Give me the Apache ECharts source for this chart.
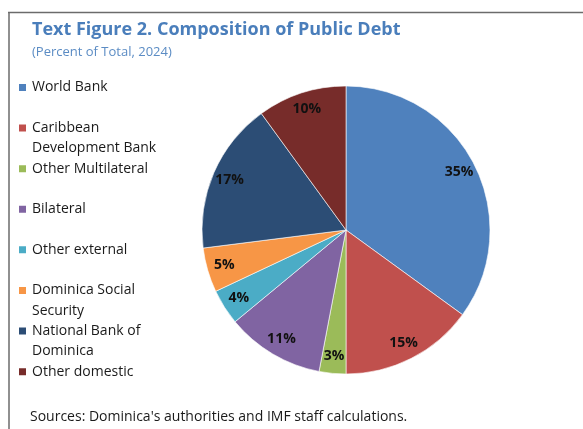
<!DOCTYPE html>
<html>
<head>
<meta charset="utf-8">
<script src="https://cdn.jsdelivr.net/npm/echarts@6/dist/echarts.min.js"></script>
<style>
  html, body { margin: 0; padding: 0; background: #fff; }
  #chart { width: 583px; height: 429px; }
</style>
</head>
<body>
<div id="chart"></div>
<script>
// Composition of public debt, percent of total, 2024
const categories = [
  'World Bank',
  'Caribbean Development Bank',
  'Other Multilateral',
  'Bilateral',
  'Other external',
  'Dominica Social Security',
  'National Bank of Dominica',
  'Other domestic'
];
const shares = [35, 15, 3, 11, 4, 5, 17, 10];
const legendLabels = [
  'World Bank',
  'Caribbean\nDevelopment Bank',
  'Other Multilateral',
  'Bilateral',
  'Other external',
  'Dominica Social\nSecurity',
  'National Bank of\nDominica',
  'Other domestic'
];
const sliceColors = ['#4f81bd', '#c0504d', '#9bbb59', '#8064a2', '#4bacc6', '#f79646', '#2c4d75', '#772c2a'];

const FONT = 'Open Sans';
const LH = 20.3;
const CENTER = [346, 230];
const R = 144;

const pieData = categories.map((name, i) => ({
  name,
  value: shares[i],
  itemStyle: { color: sliceColors[i] }
}));

// Every legend entry is laid out as three text lines (blank, label line 1,
// label line 2 or blank) so the swatch lines up with the first label line.
function legendText(name) {
  const t = legendLabels[categories.indexOf(name)];
  return ' \n' + (t.indexOf('\n') >= 0 ? t : t + '\n ');
}

const chart = echarts.init(document.getElementById('chart'), null, { renderer: 'canvas' });
chart.setOption({
  animation: false,
  backgroundColor: '#fff',
  title: [
    {
      text: 'Text Figure 2. Composition of Public Debt',
      subtext: '(Percent of Total, 2024)',
      left: 32,
      top: 21,
      padding: 0,
      itemGap: 7,
      textStyle: { fontFamily: FONT, fontWeight: 'bold', fontSize: 18, color: '#4a7ebb' },
      subtextStyle: { fontFamily: FONT, fontSize: 13, color: '#5b8cc4' }
    },
    {
      text: "Sources: Dominica's authorities and IMF staff calculations.",
      left: 30,
      top: 410,
      padding: 0,
      textStyle: { fontFamily: FONT, fontWeight: 'normal', fontSize: 14, color: '#1a1a1a' }
    }
  ],
  legend: {
    orient: 'vertical',
    left: 17,
    top: 57,
    padding: 0,
    itemWidth: 9,
    itemHeight: 9,
    itemGap: -LH,
    icon: 'rect',
    selectedMode: false,
    data: categories,
    formatter: legendText,
    textStyle: {
      fontFamily: FONT,
      fontSize: 14,
      color: '#1a1a1a',
      lineHeight: LH
    }
  },
  graphic: [
    { type: 'line', shape: { x1: 8, y1: 12.5, x2: 583, y2: 12.5 }, style: { stroke: '#6b6b6b', lineWidth: 1.5 } },
    { type: 'line', shape: { x1: 9, y1: 12, x2: 9, y2: 429 }, style: { stroke: '#6b6b6b', lineWidth: 1.5 } }
  ],
  series: [
    {
      type: 'pie',
      center: CENTER,
      radius: [0, R],
      startAngle: 90,
      clockwise: true,
      avoidLabelOverlap: false,
      silent: true,
      itemStyle: { borderColor: '#ffffff', borderWidth: 0.6 },
      label: { show: false },
      labelLine: { show: false },
      emphasis: { disabled: true },
      data: pieData
    },
    {
      // transparent copy whose inner labels sit near the rim of the visible pie
      type: 'pie',
      center: CENTER,
      radius: [0, R * 1.72],
      startAngle: 90,
      clockwise: true,
      avoidLabelOverlap: false,
      silent: true,
      z: 5,
      itemStyle: { color: 'rgba(0,0,0,0)', borderWidth: 0 },
      label: {
        show: true,
        position: 'inside',
        formatter: '{c}%',
        fontFamily: FONT,
        fontWeight: 'bold',
        fontSize: 14,
        color: '#111'
      },
      labelLine: { show: false },
      emphasis: { disabled: true },
      data: categories.map((name, i) => ({ name, value: shares[i] }))
    }
  ]
});
</script>
</body>
</html>
